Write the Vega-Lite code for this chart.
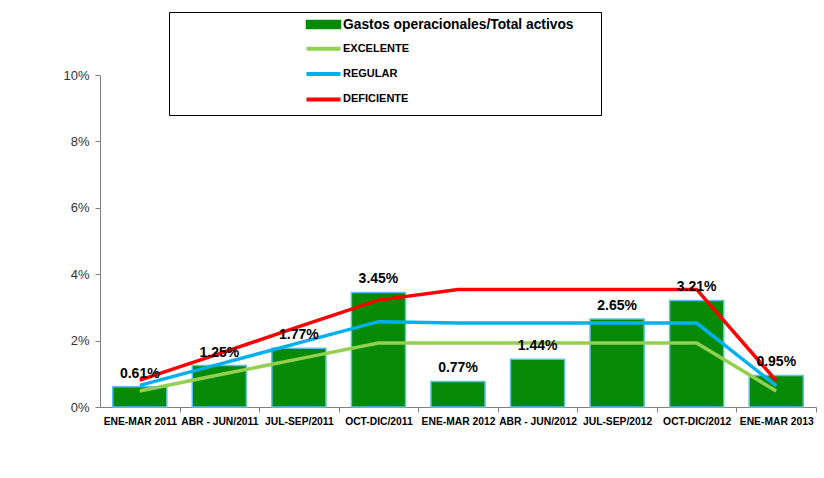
{
  "$schema": "https://vega.github.io/schema/vega-lite/v6.json",
  "width": 716,
  "height": 332,
  "padding": {"left": 62, "top": 11, "right": 5, "bottom": 5},
  "background": "white",
  "config": {"view": {"stroke": null}, "font": "Liberation Sans"},
  "data": {
    "values": [
      {"periodo": "ENE-MAR 2011", "serie": "Gastos operacionales/Total activos", "valor": 0.0061},
      {"periodo": "ABR - JUN/2011", "serie": "Gastos operacionales/Total activos", "valor": 0.0125},
      {"periodo": "JUL-SEP/2011", "serie": "Gastos operacionales/Total activos", "valor": 0.0177},
      {"periodo": "OCT-DIC/2011", "serie": "Gastos operacionales/Total activos", "valor": 0.0345},
      {"periodo": "ENE-MAR 2012", "serie": "Gastos operacionales/Total activos", "valor": 0.0077},
      {"periodo": "ABR - JUN/2012", "serie": "Gastos operacionales/Total activos", "valor": 0.0144},
      {"periodo": "JUL-SEP/2012", "serie": "Gastos operacionales/Total activos", "valor": 0.0265},
      {"periodo": "OCT-DIC/2012", "serie": "Gastos operacionales/Total activos", "valor": 0.0321},
      {"periodo": "ENE-MAR 2013", "serie": "Gastos operacionales/Total activos", "valor": 0.0095},
      {"periodo": "ENE-MAR 2011", "serie": "EXCELENTE", "valor": 0.0048},
      {"periodo": "ABR - JUN/2011", "serie": "EXCELENTE", "valor": 0.0097},
      {"periodo": "JUL-SEP/2011", "serie": "EXCELENTE", "valor": 0.0145},
      {"periodo": "OCT-DIC/2011", "serie": "EXCELENTE", "valor": 0.0193},
      {"periodo": "ENE-MAR 2012", "serie": "EXCELENTE", "valor": 0.0193},
      {"periodo": "ABR - JUN/2012", "serie": "EXCELENTE", "valor": 0.0193},
      {"periodo": "JUL-SEP/2012", "serie": "EXCELENTE", "valor": 0.0193},
      {"periodo": "OCT-DIC/2012", "serie": "EXCELENTE", "valor": 0.0193},
      {"periodo": "ENE-MAR 2013", "serie": "EXCELENTE", "valor": 0.0048},
      {"periodo": "ENE-MAR 2011", "serie": "REGULAR", "valor": 0.0065},
      {"periodo": "ABR - JUN/2011", "serie": "REGULAR", "valor": 0.0129},
      {"periodo": "JUL-SEP/2011", "serie": "REGULAR", "valor": 0.0193},
      {"periodo": "OCT-DIC/2011", "serie": "REGULAR", "valor": 0.0257},
      {"periodo": "ENE-MAR 2012", "serie": "REGULAR", "valor": 0.0253},
      {"periodo": "ABR - JUN/2012", "serie": "REGULAR", "valor": 0.0253},
      {"periodo": "JUL-SEP/2012", "serie": "REGULAR", "valor": 0.0253},
      {"periodo": "OCT-DIC/2012", "serie": "REGULAR", "valor": 0.0253},
      {"periodo": "ENE-MAR 2013", "serie": "REGULAR", "valor": 0.0064},
      {"periodo": "ENE-MAR 2011", "serie": "DEFICIENTE", "valor": 0.0081},
      {"periodo": "ABR - JUN/2011", "serie": "DEFICIENTE", "valor": 0.0161},
      {"periodo": "JUL-SEP/2011", "serie": "DEFICIENTE", "valor": 0.0242},
      {"periodo": "OCT-DIC/2011", "serie": "DEFICIENTE", "valor": 0.0322},
      {"periodo": "ENE-MAR 2012", "serie": "DEFICIENTE", "valor": 0.0354},
      {"periodo": "ABR - JUN/2012", "serie": "DEFICIENTE", "valor": 0.0354},
      {"periodo": "JUL-SEP/2012", "serie": "DEFICIENTE", "valor": 0.0354},
      {"periodo": "OCT-DIC/2012", "serie": "DEFICIENTE", "valor": 0.0354},
      {"periodo": "ENE-MAR 2013", "serie": "DEFICIENTE", "valor": 0.0079}
    ]
  },
  "encoding": {
    "x": {
      "field": "periodo",
      "type": "nominal",
      "sort": null,
      "scale": {"paddingInner": 0.32, "paddingOuter": 0.16},
      "axis": {
        "title": null,
        "labelAngle": 0,
        "labelFontSize": 10.3,
        "labelFontWeight": "bold",
        "labelColor": "#000000",
        "labelOverlap": false,
        "labelLimit": 0,
        "labelPadding": 4,
        "bandPosition": 1,
        "tickOffset": 12.7,
        "labelOffset": -12.7,
        "tickSize": 5,
        "tickColor": "#808080",
        "domainColor": "#808080"
      }
    },
    "y": {
      "field": "valor",
      "type": "quantitative",
      "scale": {"domain": [0, 0.1], "nice": false},
      "axis": {
        "title": null,
        "values": [0, 0.02, 0.04, 0.06, 0.08, 0.1],
        "format": ".0%",
        "grid": false,
        "labelFontSize": 13,
        "labelColor": "#333333",
        "labelPadding": 6,
        "tickSize": 5,
        "tickColor": "#808080",
        "domainColor": "#808080"
      }
    },
    "color": {
      "field": "serie",
      "type": "nominal",
      "scale": {
        "domain": ["Gastos operacionales/Total activos", "EXCELENTE", "REGULAR", "DEFICIENTE"],
        "range": ["#078a07", "#92d050", "#00b0f0", "#ff0000"]
      },
      "legend": {
        "title": null,
        "orient": "none",
        "legendX": 69,
        "legendY": -63,
        "strokeColor": "#000000",
        "padding": 7,
        "rowPadding": 8.3,
        "symbolOffset": 142,
        "symbolSize": 289,
        "symbolType": "M-2,0H2",
        "labelOffset": 14,
        "labelFontWeight": "bold",
        "labelFontSize": 13.8,
        "labelColor": "#000000",
        "labelLimit": 0,
        "labelExpr": "datum.value == 'Gastos operacionales/Total activos' ? datum.label + '\u2800\u2800' : datum.label",
        "encode": {
          "symbols": {
            "update": {
              "shape": {"signal": "datum.value == 'Gastos operacionales/Total activos' ? 'M-2,-0.47H2V0.47H-2Z' : 'M-2,0H2'"},
              "fill": {"signal": "datum.value == 'Gastos operacionales/Total activos' ? '#078a07' : 'transparent'"},
              "stroke": {"signal": "datum.value == 'Gastos operacionales/Total activos' ? '#3a8fd0' : (datum.value == 'EXCELENTE' ? '#92d050' : (datum.value == 'REGULAR' ? '#00b0f0' : '#ff0000'))"},
              "strokeWidth": {"signal": "datum.value == 'Gastos operacionales/Total activos' ? 1.5 : 4"},
              "opacity": {"value": 1},
              "fillOpacity": {"value": 1},
              "strokeOpacity": {"value": 1}
            }
          },
          "labels": {
            "update": {
              "fontSize": {"signal": "datum.value == 'Gastos operacionales/Total activos' ? 13.8 : 11"}
            }
          }
        }
      }
    }
  },
  "layer": [
    {
      "transform": [{"filter": "datum.serie == 'Gastos operacionales/Total activos'"}],
      "mark": {"type": "bar", "stroke": "#5cc0ee", "strokeWidth": 1.5}
    },
    {
      "transform": [{"filter": "datum.serie != 'Gastos operacionales/Total activos'"}],
      "mark": {"type": "line", "strokeWidth": 3.5}
    },
    {
      "transform": [{"filter": "datum.serie == 'Gastos operacionales/Total activos'"}],
      "mark": {"type": "text", "baseline": "bottom", "dy": -6, "fontSize": 14, "fontWeight": "bold"},
      "encoding": {
        "color": {"value": "#000000"},
        "text": {"field": "valor", "type": "quantitative", "format": ".2%"}
      }
    }
  ]
}
